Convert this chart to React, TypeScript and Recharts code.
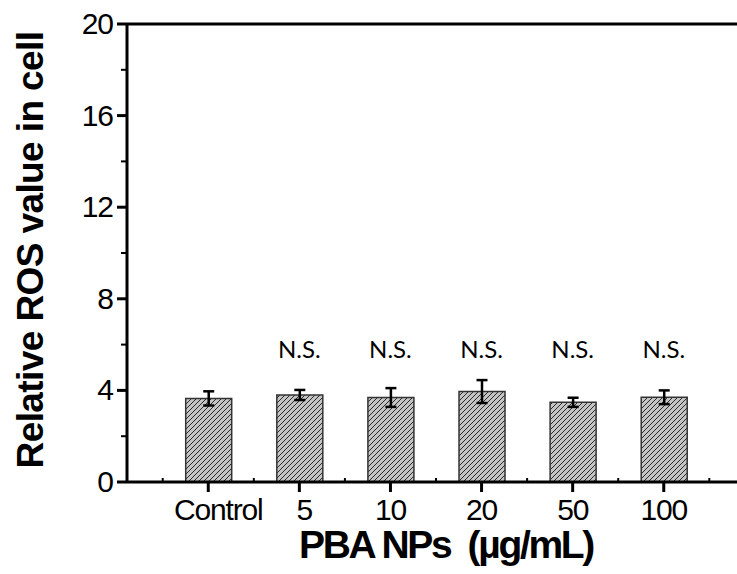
import { ComposedChart, Bar, ErrorBar, XAxis, YAxis, Scatter, ReferenceLine, Label } from "recharts";

// values
const categories = ["Control", "5", "10", "20", "50", "100"];
const means = [3.65, 3.8, 3.69, 3.95, 3.48, 3.7];
const errors = [0.31, 0.22, 0.41, 0.5, 0.2, 0.3];
const nsMarks = ["", "N.S.", "N.S.", "N.S.", "N.S.", "N.S."];
const NS_LEVEL = 5.4;
const yTicks = [0, 2, 4, 6, 8, 10, 12, 14, 16, 18, 20];
const yLabelEvery = 4;

const barData = categories.map((name, i) => ({ pos: i, name, value: means[i], err: errors[i] }));
const nsData = categories
  .map((_, i) => ({ pos: i, level: NS_LEVEL, text: nsMarks[i] }))
  .filter((d) => d.text);
// major ticks on categories, minor ticks between them
const xTicks = categories.flatMap((_, i) => [i - 0.5, i]).concat(categories.length - 0.5);

const FONT = "'Liberation Sans', Arial, sans-serif";

const XTick = ({ x, y, payload }: any) => {
  const v = payload.value;
  if (Number.isInteger(v)) {
    // the first two labels sit a little right of their ticks in the original
    const shift = v === 0 ? 10 : v === 1 ? 5 : 0;
    return (
      <g>
        <line x1={x} x2={x} y1={y} y2={y + 10} stroke="#000" strokeWidth={3} />
        <text x={x + shift} y={y + 38} textAnchor="middle" fontFamily={FONT} fontSize={30} letterSpacing={-1.2} fill="#000">
          {categories[v]}
        </text>
      </g>
    );
  }
  return <line x1={x} x2={x} y1={y} y2={y - 4} stroke="#000" strokeWidth={2} />;
};

const YTick = ({ x, y, payload }: any) => {
  const v = payload.value;
  const major = v % yLabelEvery === 0;
  return (
    <g>
      <line x1={x - (major ? 10 : 6)} x2={x} y1={y} y2={y} stroke="#000" strokeWidth={major ? 3 : 2} />
      {major && (
        <text x={x - 14} y={y + 10} textAnchor="end" fontFamily={FONT} fontSize={30} letterSpacing={-1} fill="#000">
          {v}
        </text>
      )}
    </g>
  );
};

export default function App() {
  return (
    <div style={{ position: "absolute", left: 0, top: 0, width: 737, height: 574, overflow: "hidden", background: "#fff" }}>
      <svg width={0} height={0} style={{ position: "absolute" }}>
        <defs>
          <pattern id="hatch" patternUnits="userSpaceOnUse" width={5} height={5}>
            <rect width={5} height={5} fill="#c4c4c4" />
            <path d="M0,5 L5,0 M-1,1 L1,-1 M4,6 L6,4" stroke="#2a2a2a" strokeWidth={1} />
          </pattern>
        </defs>
      </svg>
      <ComposedChart width={737} height={574} data={barData} margin={{ top: 24, right: 0, bottom: 0, left: 0 }}>
        <XAxis
          dataKey="pos"
          type="number"
          domain={[-0.892, 5.804]}
          allowDataOverflow
          ticks={xTicks}
          interval={0}
          tickSize={0}
          tickMargin={0}
          tickLine={false}
          tick={<XTick />}
          height={92}
          axisLine={{ stroke: "#000", strokeWidth: 3 }}
        >
          <Label
            content={() => (
              <text x={446} y={558} textAnchor="middle" fontFamily={FONT} fontWeight="bold" fontSize={39} letterSpacing={-2.3} fill="#000">
                {"PBA NPs\u00a0\u00a0(\u00b5g/mL)"}
              </text>
            )}
          />
        </XAxis>
        <YAxis
          type="number"
          domain={[0, 20]}
          ticks={yTicks}
          interval={0}
          tickSize={0}
          tickMargin={0}
          tickLine={false}
          tick={<YTick />}
          width={127}
          axisLine={{ stroke: "#000", strokeWidth: 3 }}
        >
          <Label
            content={() => (
              <text
                x={43}
                y={250}
                transform="rotate(-90 43 250)"
                textAnchor="middle"
                fontFamily={FONT}
                fontWeight="bold"
                fontSize={37}
                letterSpacing={-0.6}
                fill="#000"
              >
                Relative ROS value in cell
              </text>
            )}
          />
        </YAxis>
        <ReferenceLine y={20} stroke="#000" strokeWidth={3} />
        <Bar dataKey="value" barSize={46} fill="url(#hatch)" stroke="#333" strokeWidth={1.5} isAnimationActive={false}>
          <ErrorBar dataKey="err" width={5.5} stroke="#000" strokeWidth={2.5} />
        </Bar>
        <Scatter
          data={nsData}
          dataKey="level"
          isAnimationActive={false}
          shape={(p: any) => (
            <text x={p.cx} y={p.cy} textAnchor="middle" fontFamily="Lato, 'Open Sans', sans-serif" fontSize={24} fill="#000">
              {p.payload.text}
            </text>
          )}
        />
      </ComposedChart>
    </div>
  );
}
